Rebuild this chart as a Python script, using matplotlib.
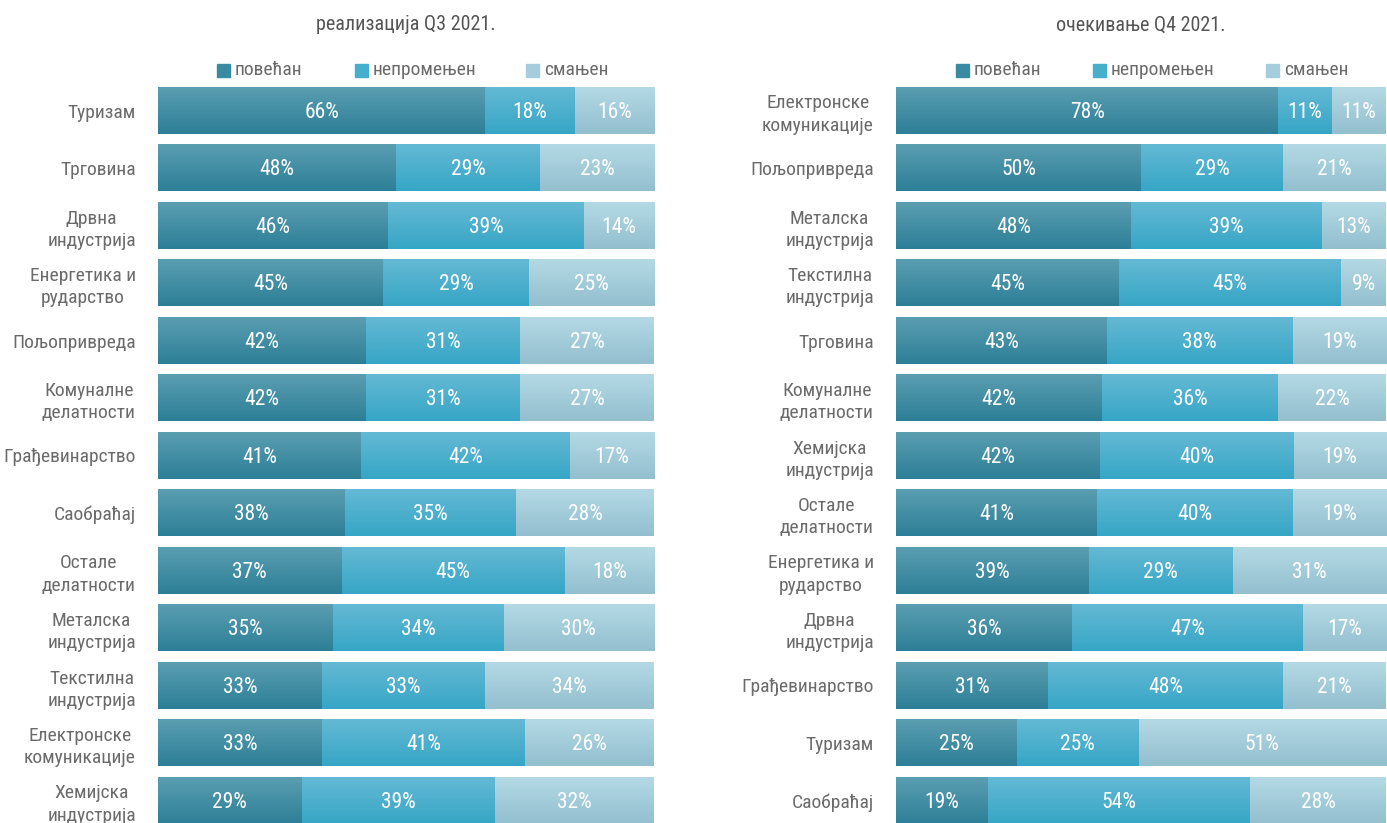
import numpy as np
import matplotlib
matplotlib.use("Agg")
import matplotlib.pyplot as plt
from matplotlib import font_manager
from matplotlib.colors import LinearSegmentedColormap
from matplotlib.patches import Rectangle

# data
series = ["повећан", "непромењен", "смањен"]

left_title = "реализација Q3 2021."
left_cats = ["Туризам", "Трговина", "Дрвна\nиндустрија", "Енергетика и\nрударство",
             "Пољопривреда", "Комуналне\nделатности", "Грађевинарство", "Саобраћај",
             "Остале\nделатности", "Металска\nиндустрија", "Текстилна\nиндустрија",
             "Електронске\nкомуникације", "Хемијска\nиндустрија"]
left_up = [66, 48, 46, 45, 42, 42, 41, 38, 37, 35, 33, 33, 29]
left_same = [18, 29, 39, 29, 31, 31, 42, 35, 45, 34, 33, 41, 39]
left_down = [16, 23, 14, 25, 27, 27, 17, 28, 18, 30, 34, 26, 32]

right_title = "очекивање Q4 2021."
right_cats = ["Електронске\nкомуникације", "Пољопривреда", "Металска\nиндустрија",
              "Текстилна\nиндустрија", "Трговина", "Комуналне\nделатности",
              "Хемијска\nиндустрија", "Остале\nделатности", "Енергетика и\nрударство",
              "Дрвна\nиндустрија", "Грађевинарство", "Туризам", "Саобраћај"]
right_up = [78, 50, 48, 45, 43, 42, 42, 41, 39, 36, 31, 25, 19]
right_same = [11, 29, 39, 45, 38, 36, 40, 40, 29, 47, 48, 25, 54]
right_down = [11, 21, 13, 9, 19, 22, 19, 19, 31, 17, 21, 51, 28]

# top / bottom colours of the gradient for each series
grad_colors = [("#5b9eb1", "#2c7f97"), ("#64b9d4", "#36a6c6"), ("#b4d9e5", "#93bfcf")]
legend_colors = ["#3a8aa2", "#45afcc", "#a5cddb"]

# look for a narrow / condensed face, the original uses a condensed font
fonts = font_manager.fontManager.ttflist
font = "DejaVu Sans"
stretch = "normal"
for want in ["Roboto Condensed", "Open Sans Condensed", "Liberation Sans Narrow", "Noto Sans Condensed"]:
    if any(f.name == want for f in fonts):
        font = want
        break
else:
    for f in fonts:
        if f.name in ("DejaVu Sans", "Roboto", "Open Sans", "Noto Sans") and "ondensed" in f.fname \
                and "Bold" not in f.fname and "Oblique" not in f.fname and "Italic" not in f.fname:
            font = f.name
            stretch = "condensed"
            break
plt.rcParams["font.family"] = [font, "DejaVu Sans"]
plt.rcParams["font.stretch"] = stretch

fig = plt.figure(figsize=(13.87, 8.23), dpi=100)

# pixel layout: first bar centre at y=110.5, pitch 57.5 px
y_top = -110.5 / 57.5
y_bot = (823 - 110.5) / 57.5
bar_h = 47 / 57.5
grad = np.linspace(0, 1, 64).reshape(-1, 1)


def draw_panel(x0, x1, cats, up, same, down, title, legend_x):
    W = 1387.0
    ax = fig.add_axes([x0 / W, 0, (x1 - x0) / W, 1])
    for i in range(len(cats)):
        vals = [up[i], same[i], down[i]]
        total = sum(vals)
        left = 0
        for k, v in enumerate(vals):
            w = v / total * 100
            cmap = LinearSegmentedColormap.from_list("g%d" % k, grad_colors[k])
            ax.imshow(grad, cmap=cmap, aspect="auto", origin="upper",
                      extent=(left, left + w, i + bar_h / 2, i - bar_h / 2), zorder=1)
            ax.text(left + w / 2, i + 0.03, "%d%%" % v, ha="center", va="center",
                    color="white", fontsize=15.5, zorder=3)
            left += w
    ax.set_xlim(0, 100)
    ax.set_ylim(y_bot, y_top)
    ax.set_yticks(range(len(cats)))
    ax.set_yticklabels(cats, fontsize=14, color="#6b6b6b", multialignment="center",
                       linespacing=1.3)
    ax.tick_params(axis="y", length=0, pad=16)
    ax.set_xticks([])
    for s in ax.spines.values():
        s.set_visible(False)
    ax.patch.set_alpha(0)

    # title
    fig.text((x0 + x1) / 2 / W, 1 - 25 / 823.0, title, ha="center", va="center",
             fontsize=14.5, color="#555555")
    # legend
    for k, name in enumerate(series):
        lx = legend_x[k]
        fig.patches.append(Rectangle((lx / W, 1 - 77 / 823.0), 13 / W, 13 / 823.0,
                                     transform=fig.transFigure, color=legend_colors[k]))
        fig.text((lx + 18) / W, 1 - 70 / 823.0, name, ha="left", va="center",
                 fontsize=14, color="#6b6b6b")
    return ax


draw_panel(158, 654, left_cats, left_up, left_same, left_down, left_title, [217, 355, 526])
draw_panel(896, 1386, right_cats, right_up, right_same, right_down, right_title, [956, 1093, 1266])

fig.savefig("out.png", dpi=100)
